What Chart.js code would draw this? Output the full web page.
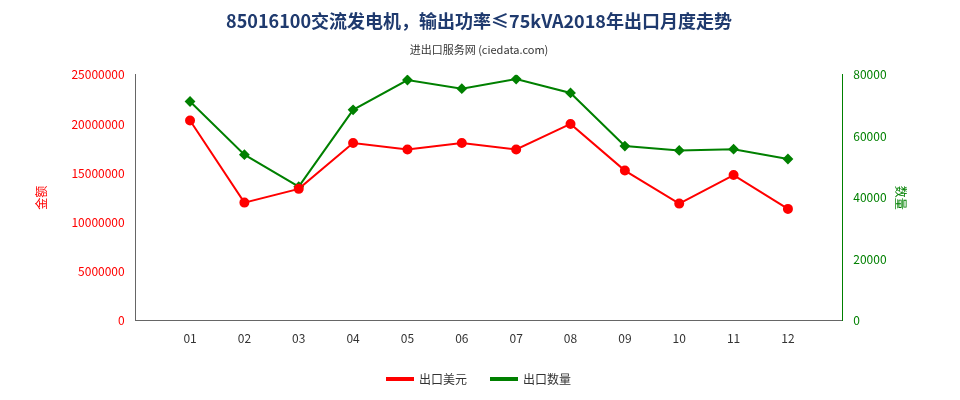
<!DOCTYPE html>
<html><head><meta charset="utf-8">
<script src="https://cdn.jsdelivr.net/npm/chart.js@4/dist/chart.umd.min.js"></script>
<style>body{margin:0;background:#fff}#w{width:960px;height:400px}</style>
</head><body><div id="w"><canvas id="c"></canvas></div>
<script>
const months = ['', '01','02','03','04','05','06','07','08','09','10','11','12', ''];
const exportValue = [null, 20350000,12000000,13400000,18070000,17400000,18070000,17400000,20000000,15260000,11900000,14800000,11360000, null];
const exportQty = [null, 71300,54000,43600,68600,78300,75500,78600,74100,56800,55400,55800,52600, null];
const leftTicks = [0,5000000,10000000,15000000,20000000,25000000];
const rightTicks = [0,20000,40000,60000,80000];
const F = 'Noto Sans CJK SC, sans-serif';
new Chart(document.getElementById('c'), {
  type: 'line',
  data: { labels: months, datasets: [
    { label: '出口美元', data: exportValue, yAxisID: 'y', borderColor: '#ff0000', backgroundColor: '#ff0000', pointStyle: 'circle', pointRadius: 4, borderWidth: 2, tension: 0 },
    { label: '出口数量', data: exportQty, yAxisID: 'y1', borderColor: '#008000', backgroundColor: '#008000', pointStyle: 'rectRot', pointRadius: 4, borderWidth: 2, tension: 0 }
  ]},
  options: {
    responsive: true, maintainAspectRatio: false, animation: false,
    layout: { padding: { left: 30, right: 32, top: 0, bottom: 5 } },
    plugins: {
      title: { display: true, text: '85016100交流发电机，输出功率≤75kVA2018年出口月度走势', color: '#1f3a6e', font: { family: F, size: 18, weight: 'bold' }, padding: { top: 10, bottom: 12 } },
      subtitle: { display: true, text: '进出口服务网 (ciedata.com)', color: '#333', font: { family: F, size: 11 }, padding: { bottom: 18 } },
      legend: { position: 'bottom', labels: { boxWidth: 26, boxHeight: 2, color: '#333', font: { family: F, size: 12 }, padding: 24 } }
    },
    scales: {
      x: { offset: false, grid: { display: false, drawTicks: true }, border: { color: '#666' }, ticks: { color: '#333', font: { family: F, size: 12 }, autoSkip: false } },
      y: { position: 'left', min: 0, max: 25000000, afterBuildTicks: a => { a.ticks = leftTicks.map(v => ({ value: v })); },
        grid: { display: false }, border: { color: '#666' },
        ticks: { color: '#ff0000', font: { family: F, size: 12 }, callback: v => String(v) },
        title: { display: true, text: '金额', color: '#ff0000', font: { family: F, size: 12 }, padding: { bottom: 20 } } },
      y1: { position: 'right', min: 0, max: 80000, afterBuildTicks: a => { a.ticks = rightTicks.map(v => ({ value: v })); },
        grid: { display: false }, border: { color: '#008000' },
        ticks: { color: '#008000', font: { family: F, size: 12 }, callback: v => String(v) },
        title: { display: true, text: '数量', color: '#008000', font: { family: F, size: 12 }, padding: { top: 20 } } }
    }
  }
});
</script></body></html>
